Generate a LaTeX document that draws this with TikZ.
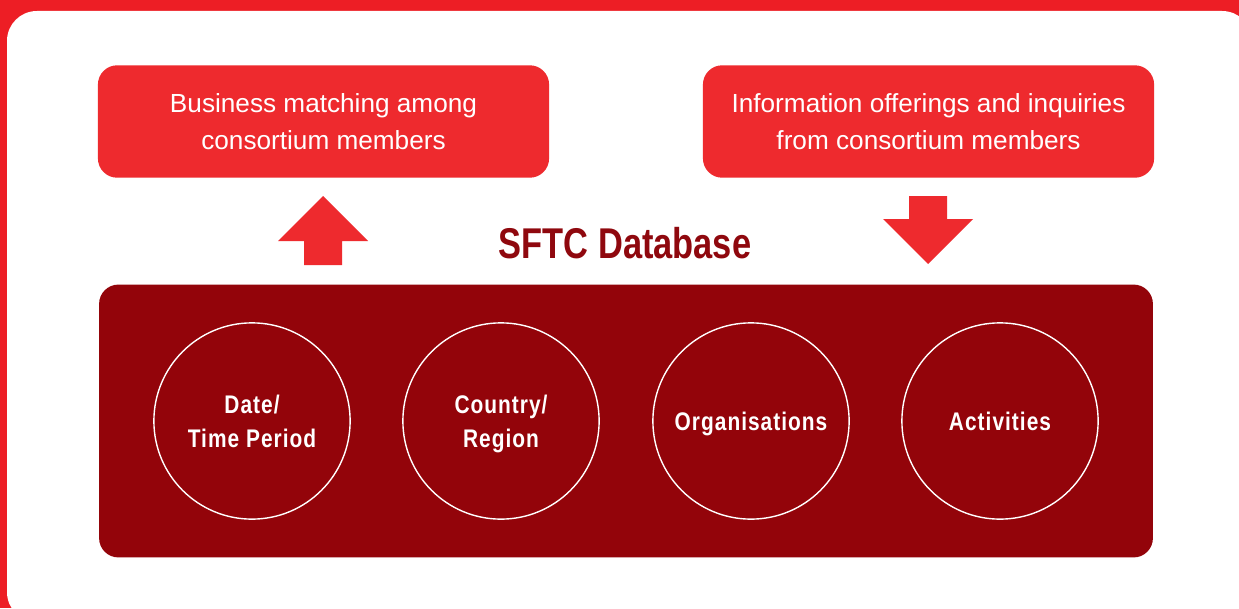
\documentclass[tikz,border=0pt]{standalone}
\usepackage{fontspec}
\setmainfont{Liberation Sans}
\newfontfamily\condfont[FakeStretch=0.82,LetterSpace=4]{Liberation Sans}
\newfontfamily\titlefont[FakeStretch=0.8]{Liberation Sans}
\usetikzlibrary{positioning}
\definecolor{sftcred}{RGB}{238,42,46}
\definecolor{sftcframe}{RGB}{237,30,37}
\definecolor{sftcdark}{RGB}{147,4,10}
\definecolor{sftctitle}{RGB}{143,8,14}

\begin{document}
\begin{tikzpicture}[
    x=0.02cm, y=-0.02cm,
    every node/.style={inner sep=0pt},
    topbox/.style={
        rectangle,
        fill=sftcred,
        rounded corners=11pt,
        minimum width=256.8pt,
        minimum height=64pt,
        align=center,
        text=white,
        font=\fontsize{14.9}{21.3}\selectfont
    },
    topic/.style={
        circle,
        draw=white,
        line width=0.8pt,
        minimum size=111.7pt
    },
    topiclabel/.style={
        align=center,
        text=white,
        text depth=0pt,
        yshift=-0.3pt,
        font=\condfont\bfseries\fontsize{14.5}{19.3}\selectfont
    },
    blockarrow/.style={fill=sftcred}
]

% Frame and white panel
\useasboundingbox (0,0) rectangle (1239,608);
\fill[sftcframe] (0,0) rectangle (1239,608);
\fill[white, rounded corners=17pt] (7,11) rectangle (1252,622);

% Top boxes
\node[topbox] (matching) at (323.5,121.5) {Business matching among\\consortium members};
\node[topbox] (offerings) at (928.5,121.5) {Information offerings and inquiries\\from consortium members};

% Block arrows
\fill[blockarrow] (304,265) -- (304,241) -- (278,241) -- (323,196) -- (368,241) -- (342,241) -- (342,265) -- cycle;
\fill[blockarrow] (909,196) -- (947,196) -- (947,219) -- (973,219) -- (928,264) -- (883,219) -- (909,219) -- cycle;

% Title
\node[anchor=base, text=sftctitle, font=\titlefont\bfseries\fontsize{24.5}{28}\selectfont] (title) at (625,258) {SFTC Database};

% Database panel
\node[rectangle, fill=sftcdark, rounded corners=11pt, minimum width=599.8pt, minimum height=155.3pt] (database) at (626,421) {};

% Topics
\node[topic, label={[topiclabel]center:Date/\\Time Period}] (date) at (252,421) {};
\node[topic, label={[topiclabel]center:Country/\\Region}] (country) at (501,421) {};
\node[topic, label={[topiclabel]center:Organisations}] (organisations) at (751,421) {};
\node[topic, label={[topiclabel]center:Activities}] (activities) at (1000,421) {};

\end{tikzpicture}
\end{document}
